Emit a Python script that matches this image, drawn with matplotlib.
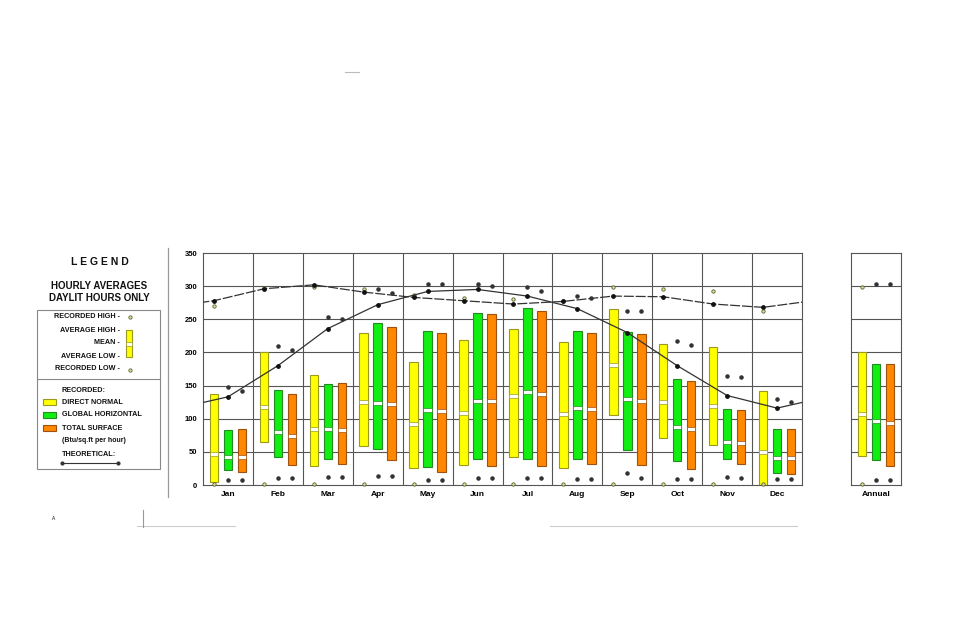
import matplotlib
matplotlib.use("Agg")
import matplotlib.pyplot as plt
import numpy as np
from matplotlib.patches import Rectangle
from matplotlib.lines import Line2D

FONT = ["Liberation Sans", "DejaVu Sans"]
plt.rcParams['font.family'] = FONT

months = ["Jan", "Feb", "Mar", "Apr", "May", "Jun", "Jul", "Aug", "Sep", "Oct", "Nov", "Dec"]
yticks = [0, 50, 100, 150, 200, 250, 300, 350]

# Direct normal (yellow)
dn_avg_high = [138, 200, 166, 230, 185, 219, 235, 216, 266, 212, 208, 142]
dn_mean     = [47, 118, 84, 125, 92, 109, 135, 107, 181, 125, 119, 50]
dn_avg_low  = [5, 65, 29, 59, 26, 30, 42, 26, 106, 71, 61, 0]
dn_rec_high = [270, 297, 298, 295, 287, 282, 280, 278, 298, 296, 293, 262]
dn_rec_low  = [1, 1, 1, 1, 1, 1, 1, 1, 1, 1, 1, 1]

# Global horizontal (green)
gh_avg_high = [83, 144, 153, 244, 233, 259, 267, 233, 231, 160, 115, 84]
gh_mean     = [42, 80, 84, 123, 113, 127, 141, 116, 130, 88, 65, 41]
gh_avg_low  = [22, 42, 39, 54, 27, 39, 39, 39, 53, 36, 39, 18]
gh_rec_high = [148, 210, 254, 295, 303, 303, 298, 285, 262, 217, 165, 129]
gh_rec_low  = [8, 10, 12, 13, 8, 10, 10, 9, 18, 9, 12, 9]

# Total surface (orange)
ts_avg_high = [84, 138, 154, 239, 230, 258, 263, 230, 228, 157, 113, 84]
ts_mean     = [42, 74, 83, 122, 112, 127, 137, 114, 127, 85, 63, 40]
ts_avg_low  = [20, 30, 32, 38, 20, 28, 28, 32, 30, 24, 31, 16]
ts_rec_high = [142, 203, 250, 290, 303, 300, 293, 282, 262, 211, 163, 125]
ts_rec_low  = [8, 10, 12, 13, 8, 10, 10, 9, 10, 9, 10, 9]

# Theoretical curves
theo_dn = [278, 296, 302, 291, 283, 278, 273, 277, 285, 284, 273, 268]
theo_gh = [133, 180, 236, 272, 292, 295, 285, 266, 230, 180, 135, 116]

# Annual
ann_avg_high = [201, 183, 182]
ann_mean     = [107, 96, 94]
ann_avg_low  = [43, 37, 28]
ann_rec_high = [298, 303, 303]
ann_rec_low  = [1, 8, 8]

W, H = 956, 618
fig = plt.figure(figsize=(W / 100, H / 100), dpi=100)
fig.patch.set_facecolor("white")

def ax_rect(x0, y0, x1, y1):
    return [x0 / W, 1 - y1 / H, (x1 - x0) / W, (y1 - y0) / H]

FILLS = ["#FFFF00", "#11EE11", "#FF8800"]
EDGES = ["#9A9A20", "#228B22", "#A05010"]
OFFS = [0.22, 0.5, 0.78]
BW = 0.17
GRID = "#555555"

def draw_boxes(ax, xs_base, highs, means, lows, rhighs, rlows, k):
    for i, xb in enumerate(xs_base):
        x = xb + OFFS[k]
        ax.bar(x, highs[i] - lows[i], bottom=lows[i], width=BW,
               color=FILLS[k], edgecolor=EDGES[k], linewidth=0.8, zorder=3)
        ax.bar(x, 6, bottom=means[i] - 3, width=BW,
               color="white", edgecolor=EDGES[k], linewidth=0.5, zorder=4)
    xs = np.array(xs_base) + OFFS[k]
    if k == 0:
        ax.scatter(xs, rhighs, s=6, facecolor="#dddd99", edgecolor="#556633",
                   linewidths=0.6, zorder=5)
        ax.scatter(xs, rlows, s=6, facecolor="#dddd99", edgecolor="#556633",
                   linewidths=0.6, zorder=5, clip_on=False)
    else:
        ax.scatter(xs, rhighs, s=5, color="#333333", zorder=5)
        ax.scatter(xs, rlows, s=5, color="#333333", zorder=5, clip_on=False)

# ---------- main axes ----------
ax = fig.add_axes(ax_rect(203, 253, 802, 485))
ax.set_xlim(0, 12)
ax.set_ylim(0, 350)
ax.set_yticks(yticks)
ax.set_yticklabels([str(v) for v in yticks], fontsize=5.5, fontweight="bold")
ax.set_xticks(np.arange(12) + 0.5)
ax.set_xticklabels(months, fontsize=6, fontweight="bold")
ax.tick_params(length=0, pad=4)
for v in yticks[1:-1]:
    ax.axhline(v, color=GRID, lw=0.8, zorder=1)
for i in range(1, 12):
    ax.axvline(i, color=GRID, lw=0.8, zorder=1)
for s in ax.spines.values():
    s.set_color(GRID)
    s.set_linewidth(0.8)

base = list(range(12))
draw_boxes(ax, base, dn_avg_high, dn_mean, dn_avg_low, dn_rec_high, dn_rec_low, 0)
draw_boxes(ax, base, gh_avg_high, gh_mean, gh_avg_low, gh_rec_high, gh_rec_low, 1)
draw_boxes(ax, base, ts_avg_high, ts_mean, ts_avg_low, ts_rec_high, ts_rec_low, 2)

# theoretical lines (periodic wrap to edges)
for vals, off, ls in [(theo_dn, OFFS[0], (0, (8, 1.5))), (theo_gh, OFFS[1], "-")]:
    xs = np.concatenate([[-1 + off], np.arange(12) + off, [12 + off]])
    ys = np.concatenate([[vals[-1]], vals, [vals[0]]])
    ax.plot(xs, ys, color="#333333", lw=0.9, linestyle=ls, zorder=6)
    ax.scatter(np.arange(12) + off, vals, s=6, color="#111111", zorder=7)

# ---------- annual axes ----------
ax2 = fig.add_axes(ax_rect(851, 253, 901, 485))
ax2.set_xlim(0, 1)
ax2.set_ylim(0, 350)
ax2.set_yticks([])
ax2.set_xticks([0.5])
ax2.set_xticklabels(["Annual"], fontsize=6, fontweight="bold")
ax2.tick_params(length=0, pad=4)
for v in yticks[1:-1]:
    ax2.axhline(v, color=GRID, lw=0.8, zorder=1)
for s in ax2.spines.values():
    s.set_color(GRID)
    s.set_linewidth(0.8)
for k in range(3):
    draw_boxes(ax2, [0], [ann_avg_high[k]], [ann_mean[k]], [ann_avg_low[k]],
               [ann_rec_high[k]], [ann_rec_low[k]], k)

# ---------- legend panel ----------
def ftxt(x, y, s, size=5.2, ha="left", weight="bold", **kw):
    fig.text(x / W, 1 - y / H, s, fontsize=size, ha=ha, va="center",
             fontweight=weight, color="#111111", **kw)

ftxt(100, 262, "L E G E N D", size=7.5, ha="center")
ftxt(99, 286, "HOURLY AVERAGES", size=7, ha="center")
ftxt(99, 298, "DAYLIT HOURS ONLY", size=7, ha="center")

def frect(x0, y0, x1, y1, fc="none", ec="#888888", lw=0.8):
    fig.patches.append(Rectangle((x0 / W, 1 - y1 / H), (x1 - x0) / W, (y1 - y0) / H,
                                 transform=fig.transFigure, facecolor=fc,
                                 edgecolor=ec, linewidth=lw))

def fline(x0, y0, x1, y1, color="#888888", lw=0.8, **kw):
    fig.lines.append(Line2D([x0 / W, x1 / W], [1 - y0 / H, 1 - y1 / H],
                            transform=fig.transFigure, color=color, lw=lw, **kw))

frect(37, 310, 160, 469)
fline(37, 379, 160, 379)

ftxt(120, 317, "RECORDED HIGH -", ha="right")
ftxt(120, 330, "AVERAGE HIGH -", ha="right")
ftxt(120, 343, "MEAN -", ha="right")
ftxt(120, 356, "AVERAGE LOW -", ha="right")
ftxt(120, 369, "RECORDED LOW -", ha="right")
for yy in (317, 369.5):
    fig.lines.append(Line2D([129.5 / W], [1 - yy / H], transform=fig.transFigure,
                            marker="o", markersize=2.4, markerfacecolor="#dddd99",
                            markeredgecolor="#556633", markeredgewidth=0.6))
frect(126, 330, 132, 357, fc="#FFFF00", ec="#9A9A20")
frect(126, 342, 132, 346, fc="white", ec="#9A9A20", lw=0.5)

ftxt(62, 391, "RECORDED:")
frect(43, 399, 56, 405, fc="#FFFF00", ec="#9A9A20")
ftxt(62, 402, "DIRECT NORMAL")
frect(43, 412, 56, 418, fc="#11EE11", ec="#228B22")
ftxt(62, 415, "GLOBAL HORIZONTAL")
frect(43, 425, 56, 431, fc="#FF8800", ec="#A05010")
ftxt(62, 428, "TOTAL SURFACE")
ftxt(62, 441, "(Btu/sq.ft per hour)", size=5)
ftxt(62, 454, "THEORETICAL:")
fline(62, 463, 118, 463, color="#333333", lw=0.8, marker="o", markersize=2,
      markevery=[0, 1])

# separator and faint artifacts
fline(167.5, 248, 167.5, 497, color="#999999", lw=0.9)
fline(345, 72, 359, 72, color="#bbbbbb", lw=0.8)
fline(137, 526, 235, 526, color="#cccccc", lw=0.8)
fline(143, 510, 143, 527, color="#999999", lw=0.8)
fline(550, 526, 797, 526, color="#cccccc", lw=0.8)
ftxt(52, 518, "A", size=3.5, weight="normal")

fig.savefig("out.png", dpi=100, facecolor="white")
